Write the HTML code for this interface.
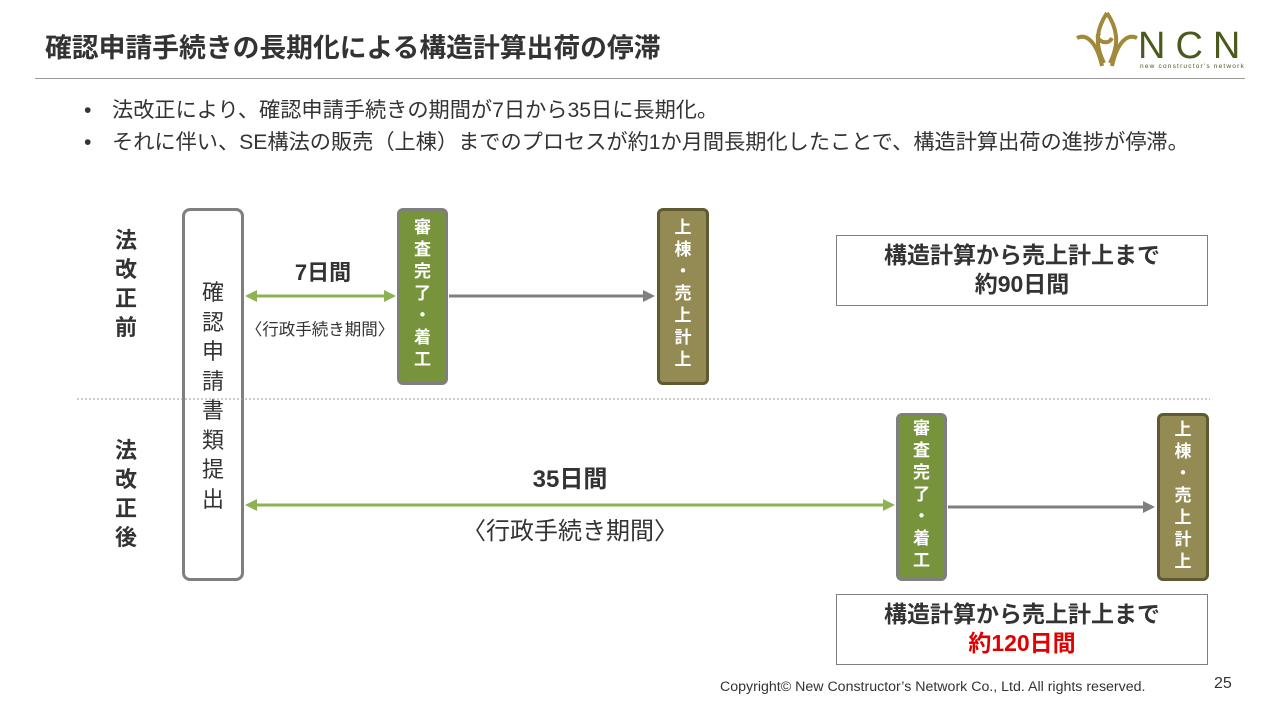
<!DOCTYPE html>
<html><head><meta charset="utf-8"><style>
*{margin:0;padding:0;box-sizing:border-box}
body{width:1280px;height:720px;background:#fff;position:relative;overflow:hidden;font-family:"Liberation Sans","Noto Sans CJK JP",sans-serif;color:#333}
.a{position:absolute}
.v{position:absolute;display:flex;flex-direction:column;align-items:center}
.v span{display:block;height:22px;line-height:22px}
.gb{background:#77933c;border:3px solid #7f7f7f;border-radius:6px;color:#fff;font-weight:bold;font-size:17px}
.ob{background:#948a54;border:3px solid #5f5a30;border-radius:6px;color:#fff;font-weight:bold;font-size:17px}
.lab{font-weight:bold;font-size:22px;color:#333}
.lab span{height:29px;line-height:29px}
.rb{position:absolute;border:1px solid #7f7f7f;text-align:center;font-weight:bold;font-size:23px;line-height:29px;padding-top:5px}
.bl{position:relative;padding-left:28px}
.bl b{position:absolute;left:0;font-weight:normal}
</style></head><body>
<div class="a" style="left:45px;top:26px;font-size:26.8px;font-weight:bold;color:#333;white-space:nowrap">確認申請手続きの長期化による構造計算出荷の停滞</div>
<div class="a" style="left:35px;top:78px;width:1210px;height:1px;background:#999"></div>
<svg class="a" style="left:1072px;top:8px" width="180" height="66">
<g fill="none" stroke="#a0893a" stroke-width="4">
<path d="M35 5 C25 20 22 35 32 55 M35 5 C45 20 48 35 38 55"/>
<path d="M5 30 C15 25 25 35 30 58 M65 30 C55 25 45 35 40 58"/>
<path d="M28 25 C20 30 35 40 40 30"/>
</g>
<text x="66" y="50" font-size="38" fill="#4a5a1e" font-family="Liberation Sans" letter-spacing="10">NCN</text>
<text x="68" y="60" font-size="6.5" fill="#4a5a1e" font-family="Liberation Sans" letter-spacing="1.2">new constructor's network</text>
</svg>
<div class="a" style="left:84px;top:95px;font-size:21.2px;line-height:32px;color:#333;white-space:nowrap">
<div class="bl"><b>•</b>法改正により、確認申請手続きの期間が7日から35日に長期化。</div>
<div class="bl"><b>•</b>それに伴い、SE構法の販売（上棟）までのプロセスが約1か月間長期化したことで、構造計算出荷の進捗が停滞。</div>
</div>
<div class="v lab" style="left:112px;top:226px;width:28px"><span>法</span><span>改</span><span>正</span><span>前</span></div>
<div class="v lab" style="left:112px;top:436px;width:28px"><span>法</span><span>改</span><span>正</span><span>後</span></div>
<div class="a" style="left:182px;top:208px;width:62px;height:373px;border:3px solid #7f7f7f;border-radius:8px"></div>
<div class="v" style="left:182px;top:278px;width:62px;font-size:22px;color:#333"><span style="height:29.5px;line-height:29.5px">確</span><span style="height:29.5px;line-height:29.5px">認</span><span style="height:29.5px;line-height:29.5px">申</span><span style="height:29.5px;line-height:29.5px">請</span><span style="height:29.5px;line-height:29.5px">書</span><span style="height:29.5px;line-height:29.5px">類</span><span style="height:29.5px;line-height:29.5px">提</span><span style="height:29.5px;line-height:29.5px">出</span></div>
<svg class="a" style="left:0;top:0" width="1280" height="720">
<defs>
<marker id="g" markerWidth="4" markerHeight="4" refX="3" refY="2" orient="auto-start-reverse" markerUnits="strokeWidth"><path d="M0,0 L4,2 L0,4z" fill="#8db153"/></marker>
<marker id="k" markerWidth="4" markerHeight="4" refX="3" refY="2" orient="auto" markerUnits="strokeWidth"><path d="M0,0 L4,2 L0,4z" fill="#7f7f7f"/></marker>
</defs>
<line x1="248" y1="296" x2="393" y2="296" stroke="#8db153" stroke-width="3" marker-start="url(#g)" marker-end="url(#g)"/>
<line x1="449" y1="296" x2="652" y2="296" stroke="#7f7f7f" stroke-width="3" marker-end="url(#k)"/>
<line x1="248" y1="505" x2="892" y2="505" stroke="#8db153" stroke-width="3" marker-start="url(#g)" marker-end="url(#g)"/>
<line x1="948" y1="507" x2="1152" y2="507" stroke="#7f7f7f" stroke-width="3" marker-end="url(#k)"/>
<line x1="77" y1="399" x2="1210" y2="399" stroke="#999" stroke-width="1" stroke-dasharray="2,2"/>
</svg>
<div class="a" style="left:263px;top:255px;width:120px;text-align:center;font-weight:bold;font-size:22px">7日間</div>
<div class="a" style="left:230px;top:316px;width:180px;text-align:center;font-size:16.5px;white-space:nowrap">〈行政手続き期間〉</div>
<div class="a" style="left:480px;top:459px;width:180px;text-align:center;font-weight:bold;font-size:24px">35日間</div>
<div class="a" style="left:400px;top:511px;width:340px;text-align:center;font-size:24px;white-space:nowrap">〈行政手続き期間〉</div>
<div class="a gb" style="left:397px;top:208px;width:51px;height:177px"></div>
<div class="v gb" style="left:397px;top:217px;width:51px;border:none;background:none"><span>審</span><span>査</span><span>完</span><span>了</span><span>・</span><span>着</span><span>工</span></div>
<div class="a ob" style="left:657px;top:208px;width:52px;height:177px"></div>
<div class="v ob" style="left:657px;top:217px;width:52px;border:none;background:none"><span>上</span><span>棟</span><span>・</span><span>売</span><span>上</span><span>計</span><span>上</span></div>
<div class="a gb" style="left:896px;top:413px;width:51px;height:168px"></div>
<div class="v gb" style="left:896px;top:418px;width:51px;border:none;background:none"><span>審</span><span>査</span><span>完</span><span>了</span><span>・</span><span>着</span><span>工</span></div>
<div class="a ob" style="left:1157px;top:413px;width:52px;height:168px"></div>
<div class="v ob" style="left:1157px;top:419px;width:52px;border:none;background:none"><span>上</span><span>棟</span><span>・</span><span>売</span><span>上</span><span>計</span><span>上</span></div>
<div class="rb" style="left:836px;top:235px;width:372px;height:71px">構造計算から売上計上まで<br>約90日間</div>
<div class="rb" style="left:836px;top:594px;width:372px;height:71px">構造計算から売上計上まで<br><span style="color:#e00000">約120日間</span></div>
<div class="a" style="left:720px;top:679px;font-size:14.2px;color:#333;white-space:nowrap">Copyright© New Constructor’s Network Co., Ltd. All rights reserved.</div>
<div class="a" style="left:1214px;top:675px;font-size:16px;color:#333">25</div>
</body></html>
